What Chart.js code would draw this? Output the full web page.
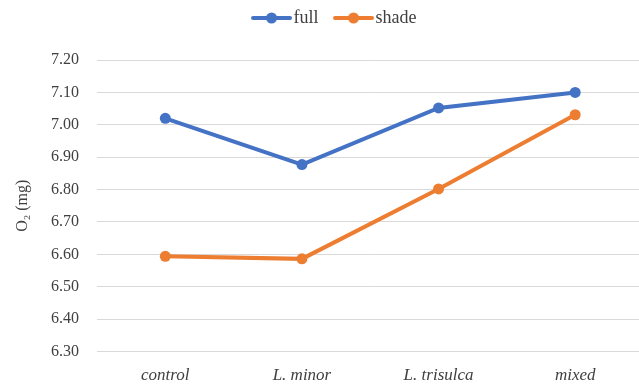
<!DOCTYPE html>
<html>
<head>
<meta charset="utf-8">
<script src="https://cdn.jsdelivr.net/npm/chart.js@4/dist/chart.umd.min.js"></script>
<style>
  html, body { margin: 0; padding: 0; background: #fff; overflow: hidden; }
  #wrap { position: relative; width: 649px; height: 385px; }
</style>
</head>
<body>
<div id="wrap"><canvas id="chart" width="649" height="385"></canvas></div>
<script>
// Dissolved oxygen by treatment, under full light and shade
const categories = ['control', 'L. minor', 'L. trisulca', 'mixed'];
const fullValues = [7.02, 6.877, 7.052, 7.10];
const shadeValues = [6.594, 6.586, 6.802, 7.031];
const yTicks = { min: 6.30, max: 7.20, step: 0.10 };

const BLUE = '#4472C4';
const ORANGE = '#ED7D31';
const FONT = "'Liberation Serif', 'DejaVu Serif', serif";
const TEXT = '#404040';
const GRID = '#d9d9d9';

// Line-with-dot legend symbol; the canvas is wider than the box so the
// line can sit right up against the label text.
function swatch(color) {
  const c = document.createElement('canvas');
  c.width = 54; c.height = 12;
  const g = c.getContext('2d');
  g.strokeStyle = color;
  g.lineWidth = 4;
  g.lineCap = 'round';
  g.beginPath(); g.moveTo(15, 6); g.lineTo(52, 6); g.stroke();
  g.fillStyle = color;
  g.beginPath(); g.arc(33.5, 6, 5.5, 0, Math.PI * 2); g.fill();
  return c;
}

const defaultLabels = Chart.defaults.plugins.legend.labels.generateLabels;

new Chart(document.getElementById('chart'), {
  type: 'line',
  data: {
    labels: categories,
    datasets: [
      {
        label: 'full', data: fullValues,
        borderColor: BLUE, backgroundColor: BLUE,
        borderWidth: 4, pointRadius: 5.5, pointHoverRadius: 5.5,
        pointBackgroundColor: BLUE, pointBorderWidth: 0, tension: 0
      },
      {
        label: 'shade', data: shadeValues,
        borderColor: ORANGE, backgroundColor: ORANGE,
        borderWidth: 4, pointRadius: 5.5, pointHoverRadius: 5.5,
        pointBackgroundColor: ORANGE, pointBorderWidth: 0, tension: 0
      }
    ]
  },
  options: {
    responsive: false,
    animation: false,
    devicePixelRatio: 1,
    layout: { padding: { left: 13, right: 0, top: 0, bottom: 0 } },
    plugins: {
      tooltip: { enabled: false },
      legend: {
        position: 'top',
        labels: {
          usePointStyle: true,
          pointStyleWidth: 39,
          padding: 9,
          color: TEXT,
          font: { family: FONT, size: 18 },
          generateLabels(chart) {
            const items = defaultLabels(chart);
            items.forEach(it => {
              const ds = chart.data.datasets[it.datasetIndex];
              it.pointStyle = swatch(ds.borderColor);
            });
            return items;
          }
        }
      },
      // empty spacer between the legend and the plot
      subtitle: {
        display: true, text: '', position: 'top', weight: 500,
        font: { size: 1, lineHeight: 1 },
        padding: { top: 0, bottom: 22 }
      }
    },
    scales: {
      x: {
        offset: true,
        afterFit(scale) { scale.height = 33.5; },
        grid: { display: false, drawTicks: false },
        border: { display: true, color: GRID, width: 1 },
        ticks: {
          color: TEXT, padding: 14,
          font: { family: FONT, size: 17, style: 'italic' }
        }
      },
      y: {
        min: yTicks.min, max: yTicks.max,
        afterFit(scale) { scale.width = 84; },
        grid: { color: GRID, lineWidth: 1, drawTicks: false },
        border: { display: false },
        ticks: {
          stepSize: yTicks.step, padding: 18, color: TEXT,
          font: { family: FONT, size: 16 },
          callback: v => Number(v).toFixed(2)
        },
        title: {
          display: true, text: 'O₂ (mg)', color: TEXT,
          font: { family: FONT, size: 16 },
          padding: { top: 0, bottom: 0 }
        }
      }
    }
  }
});
</script>
</body>
</html>
